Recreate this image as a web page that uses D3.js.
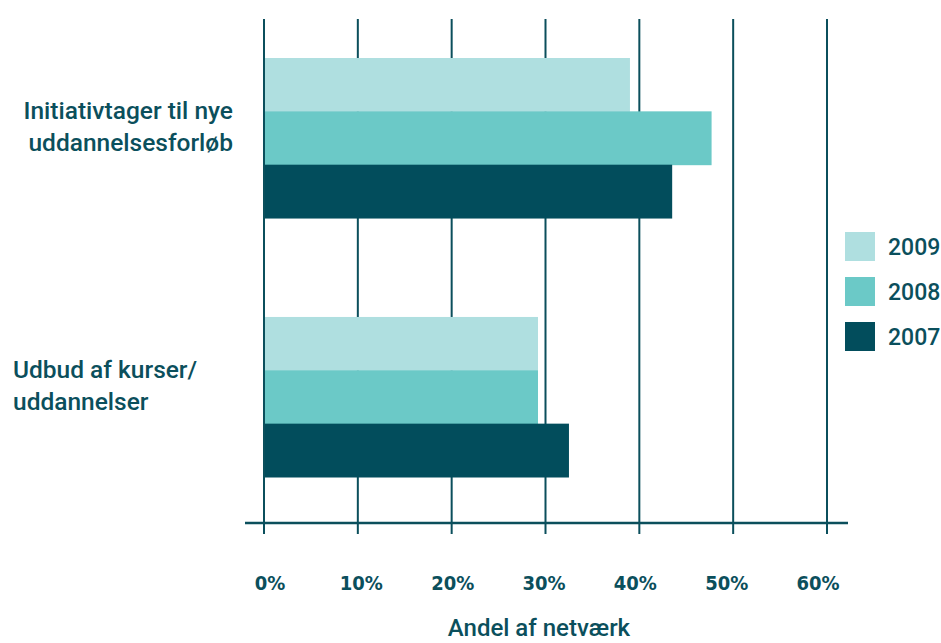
<!DOCTYPE html>
<html>
<head>
<meta charset="utf-8">
<script src="https://cdn.jsdelivr.net/npm/d3@7"></script>
<style>
  html, body { margin: 0; padding: 0; background: #fff; }
  svg { display: block; }
</style>
</head>
<body>
<svg id="chart" width="941" height="643"></svg>
<script>
// ---- data ----
const categories = ["Initiativtager til nye\nuddannelsesforløb", "Udbud af kurser/\nuddannelser"];
const seriesNames = ["2009", "2008", "2007"];
const values2009 = [39, 29.2];
const values2008 = [47.7, 29.2];
const values2007 = [43.5, 32.5];
const tickValues = [0, 10, 20, 30, 40, 50, 60];
const tickLabels = ["0%", "10%", "20%", "30%", "40%", "50%", "60%"];
const axisTitle = "Andel af netværk";

// ---- styles ----
const colors = { "2009": "#afdfe0", "2008": "#6bc9c7", "2007": "#024d5c" };
const ink = "#0b4f5c";
const seriesValues = { "2009": values2009, "2008": values2008, "2007": values2007 };

const svg = d3.select("#chart");

const x = d3.scaleLinear().domain([0, 60]).range([264, 827]);
const xLabel = d3.scaleLinear().domain([0, 60]).range([270, 818]);

const y = d3.scaleBand().domain(d3.range(categories.length)).range([58, 477]).paddingInner(0.382).paddingOuter(0);
const ySub = d3.scaleBand().domain(seriesNames).range([0, y.bandwidth()]).padding(0);

// gridlines (under bars)
svg.append("g").selectAll("line").data(tickValues).join("line")
  .attr("x1", d => x(d)).attr("x2", d => x(d))
  .attr("y1", 19).attr("y2", 534)
  .attr("stroke", ink).attr("stroke-width", 2);

// axis baseline
svg.append("line")
  .attr("x1", 245).attr("x2", 848).attr("y1", 523).attr("y2", 523)
  .attr("stroke", ink).attr("stroke-width", 2.5);

// bars
const groups = svg.append("g").selectAll("g").data(categories).join("g")
  .attr("transform", (d, i) => `translate(0,${y(i)})`);
groups.each(function(c, i) {
  d3.select(this).selectAll("rect").data(seriesNames).join("rect")
    .attr("x", x(0) + 1)
    .attr("y", s => ySub(s))
    .attr("width", s => x(seriesValues[s][i]) - x(0) - 1)
    .attr("height", ySub.bandwidth() + 0.5)
    .attr("fill", s => colors[s]);
});

// category labels
const labelAnchor = ["end", "start"];
const labelX = [233, 13];
categories.forEach((c, i) => {
  const lines = c.split("\n");
  const cy = y(i) + y.bandwidth() / 2;
  const t = svg.append("text")
    .attr("text-anchor", labelAnchor[i])
    .attr("font-family", "Roboto, 'Noto Sans', sans-serif")
    .attr("font-weight", 500)
    .attr("font-size", 24.5)
    .attr("fill", ink);
  lines.forEach((ln, k) => {
    t.append("tspan").attr("x", labelX[i]).attr("y", cy - 19 + k * 32).text(ln);
  });
});

// tick labels
svg.append("g").selectAll("text").data(tickValues).join("text")
  .attr("x", d => xLabel(d)).attr("y", 590)
  .attr("text-anchor", "middle")
  .attr("font-family", "'Liberation Sans Narrow', 'DejaVu Sans Condensed', Roboto, sans-serif")
  .attr("font-weight", 700)
  .attr("font-size", 20)
  .attr("fill", ink)
  .text((d, i) => tickLabels[i]);

// axis title
svg.append("text")
  .attr("x", 539).attr("y", 636)
  .attr("text-anchor", "middle")
  .attr("font-family", "Roboto, 'Noto Sans', sans-serif")
  .attr("font-weight", 500)
  .attr("font-size", 24)
  .attr("fill", ink)
  .text(axisTitle);

// legend
const legend = svg.append("g").selectAll("g").data(seriesNames).join("g")
  .attr("transform", (d, i) => `translate(845,${232 + i * 45})`);
legend.append("rect").attr("width", 30).attr("height", 29).attr("fill", d => colors[d]);
legend.append("text")
  .attr("x", 43).attr("y", 23)
  .attr("font-family", "Roboto, 'Noto Sans', sans-serif")
  .attr("font-weight", 500)
  .attr("font-size", 23)
  .attr("fill", ink)
  .text(d => d);
</script>
</body>
</html>
